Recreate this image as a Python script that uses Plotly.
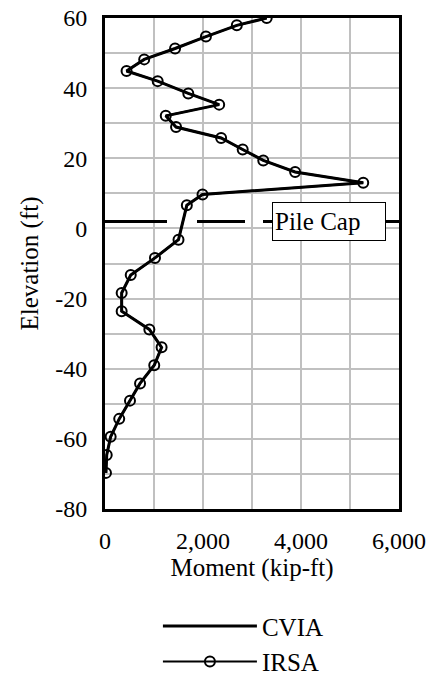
import plotly.graph_objects as go

# Elevation (ft) of each output station
elevation = [60, 57.9, 54.7, 51.3, 48.2, 44.9, 42.0, 38.5, 35.3, 32.1, 28.9, 25.8,
             22.5, 19.4, 16.1, 13.0, 9.7, 6.6, -3.2, -8.4, -13.3, -18.4, -23.6,
             -28.8, -33.9, -39.0, -44.2, -49.1, -54.3, -59.4, -64.6, -69.7]

# Moment (kip-ft)
moment_cvia = [3300, 2690, 2060, 1430, 800, 440, 1075, 1700, 2330, 1240, 1450, 2370,
               2810, 3230, 3880, 5270, 1990, 1670, 1500, 1020, 525, 340, 340,
               905, 1155, 1005, 715, 510, 290, 115, 35, 20]
moment_irsa = [3300, 2690, 2060, 1430, 800, 440, 1075, 1700, 2330, 1240, 1450, 2370,
               2810, 3230, 3880, 5270, 1990, 1670, 1500, 1020, 525, 340, 340,
               905, 1155, 1005, 715, 510, 290, 115, 35, 20]

pile_cap_elev = 2
pile_cap_label = "Pile Cap"
x_range = [0, 6000]
y_range = [-80, 60]
x_tick_vals = [0, 2000, 4000, 6000]
x_tick_text = ["0", "2,000", "4,000", "6,000"]
y_tick_vals = [60, 40, 20, 0, -20, -40, -60, -80]
y_tick_text = ["60", "40", "20", "0", "-20", "-40", "-60", "-80"]

FONT = "Liberation Serif, Times New Roman, serif"

fig = go.Figure()
fig.add_trace(go.Scatter(
    x=moment_cvia, y=elevation, mode="lines", name="CVIA",
    line=dict(color="black", width=3),
))
fig.add_trace(go.Scatter(
    x=moment_irsa, y=elevation, mode="lines+markers", name="IRSA",
    line=dict(color="black", width=2),
    marker=dict(symbol="circle-open", size=10, color="black", line=dict(width=2)),
))

fig.add_shape(type="line", xref="x", yref="y", x0=x_range[0], x1=x_range[1],
              y0=pile_cap_elev, y1=pile_cap_elev,
              line=dict(color="black", width=3, dash="62px,30px,48px,18px,400px"))

fig.add_annotation(x=3400, y=pile_cap_elev, xref="x", yref="y", text=pile_cap_label,
                   showarrow=False, xanchor="left", yanchor="middle",
                   font=dict(family=FONT, size=25, color="black"),
                   bgcolor="white", bordercolor="black", borderwidth=1,
                   width=108, height=33, align="left", valign="middle", borderpad=2)

fig.update_layout(
    template="none",
    width=432, height=675,
    margin=dict(l=105, r=33, t=18, b=166, autoexpand=False),
    paper_bgcolor="white", plot_bgcolor="white",
    font=dict(family=FONT, size=24, color="black"),
    showlegend=True,
    legend=dict(x=0.18, y=-0.192, xanchor="left", yanchor="top",
                font=dict(family=FONT, size=25, color="black"), itemwidth=94,
                bgcolor="rgba(0,0,0,0)", tracegroupgap=0),
)
fig.update_xaxes(
    range=x_range, tickvals=x_tick_vals, ticktext=x_tick_text, ticks="",
    showgrid=True, gridcolor="#c0c0c0", gridwidth=2,
    minor=dict(dtick=1000, showgrid=True, gridcolor="#c0c0c0", gridwidth=2, ticks=""),
    showline=True, linecolor="black", linewidth=3, mirror=True,
    zeroline=False, ticklabelstandoff=8, automargin=False,
    title=dict(text="Moment (kip-ft)", font=dict(family=FONT, size=25, color="black"), standoff=6),
    tickfont=dict(family=FONT, size=24, color="black"),
)
fig.update_yaxes(
    range=y_range, tickvals=y_tick_vals, ticktext=y_tick_text, ticks="",
    showgrid=True, gridcolor="#c0c0c0", gridwidth=2,
    minor=dict(dtick=10, showgrid=True, gridcolor="#c0c0c0", gridwidth=2, ticks=""),
    showline=True, linecolor="black", linewidth=3, mirror=True,
    zeroline=False, ticklabelstandoff=10, automargin=False,
    title=dict(text="Elevation (ft)", font=dict(family=FONT, size=25, color="black"), standoff=10),
    tickfont=dict(family=FONT, size=24, color="black"),
)

fig.write_html("out.html", config={"displayModeBar": False},
               post_script="document.body.style.margin='0';")
